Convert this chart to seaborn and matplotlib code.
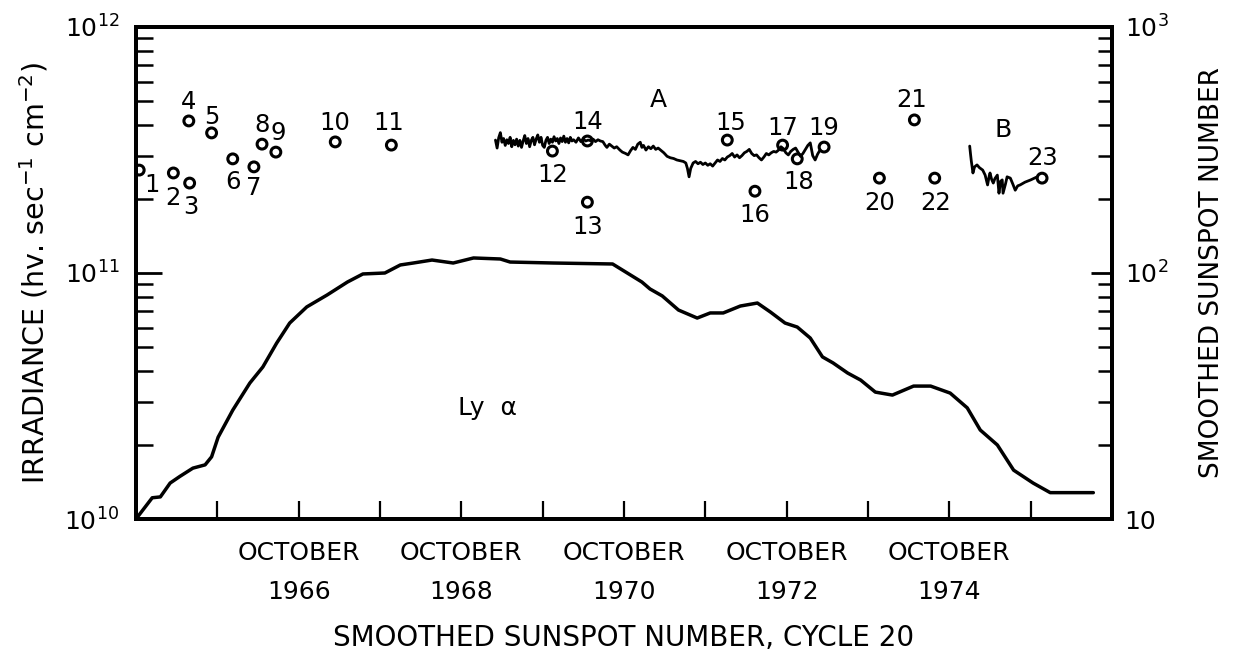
import matplotlib
matplotlib.use('Agg')
import matplotlib.pyplot as plt
import matplotlib.ticker as mticker
import seaborn as sns

sns.set_style("ticks")
plt.rcParams['font.family'] = ['DejaVu Sans']
plt.rcParams['text.color'] = 'black'
plt.rcParams['axes.labelcolor'] = 'black'
plt.rcParams['xtick.color'] = 'black'
plt.rcParams['ytick.color'] = 'black'

# smoothed sunspot number, cycle 20 (right axis)
ssn_year = [1964.75, 1964.95, 1965.05, 1965.17, 1965.29, 1965.45, 1965.60, 1965.68,
            1965.76, 1965.94, 1966.15, 1966.31, 1966.48, 1966.64, 1966.85, 1967.10,
            1967.35, 1967.54, 1967.81, 1968.00, 1968.16, 1968.39, 1968.65, 1968.90,
            1969.23, 1969.35, 1969.88, 1970.61, 1970.79, 1970.97, 1971.07, 1971.22,
            1971.42, 1971.65, 1971.81, 1971.97, 1972.18, 1972.39, 1972.55, 1972.73,
            1972.88, 1973.04, 1973.19, 1973.32, 1973.50, 1973.66, 1973.84, 1974.05,
            1974.31, 1974.52, 1974.76, 1974.97, 1975.13, 1975.34, 1975.54, 1975.78,
            1975.99, 1976.20, 1976.52]
ssn_value = [10.0, 12.2, 12.3, 14.0, 14.9, 16.1, 16.6, 17.9,
             21.5, 27.7, 35.7, 41.5, 51.9, 62.6, 72.8, 81.4,
             91.9, 99.1, 100.0, 107.8, 109.8, 112.9, 109.8, 115.1,
             114.0, 110.8, 109.8, 108.8, 100.0, 91.9, 86.1, 80.7,
             70.7, 65.6, 68.8, 68.8, 73.4, 75.5, 69.4, 62.6,
             60.3, 54.4, 45.6, 43.1, 39.2, 36.7, 32.8, 31.9,
             34.7, 34.7, 32.5, 28.3, 23.0, 20.0, 15.8, 14.0,
             12.8, 12.8, 12.8]

# numbered Ly-alpha irradiance measurements (units of 1e11)
point_id = list(range(1, 24))
point_year = [1964.79, 1965.21, 1965.41, 1965.40, 1965.68, 1965.94, 1966.20, 1966.30,
              1966.47, 1967.20, 1967.89, 1969.87, 1970.30, 1970.30, 1972.02, 1972.36,
              1972.70, 1972.88, 1973.21, 1973.89, 1974.32, 1974.57, 1975.89]
point_irr = [2.62, 2.55, 2.32, 4.15, 3.71, 2.91, 2.70, 3.34,
             3.10, 3.41, 3.31, 3.13, 1.94, 3.44, 3.47, 2.15,
             3.31, 2.91, 3.25, 2.43, 4.19, 2.43, 2.43]

# continuous record A (units of 1e11)
a_year = [1969.17, 1969.19, 1969.21, 1969.23, 1969.25, 1969.27, 1969.29, 1969.31, 1969.33, 1969.35,
          1969.37, 1969.39, 1969.41, 1969.43, 1969.45, 1969.47, 1969.49, 1969.51, 1969.53, 1969.55,
          1969.57, 1969.59, 1969.61, 1969.63, 1969.65, 1969.67, 1969.69, 1969.71, 1969.73, 1969.75,
          1969.77, 1969.79, 1969.81, 1969.83, 1969.85, 1969.87, 1969.89, 1969.91, 1969.93, 1969.95,
          1969.97, 1969.99, 1970.01, 1970.03, 1970.05, 1970.07, 1970.09, 1970.11, 1970.13, 1970.16,
          1970.19, 1970.22, 1970.25, 1970.28, 1970.31, 1970.34, 1970.37, 1970.40, 1970.43, 1970.46,
          1970.49, 1970.52, 1970.54, 1970.57, 1970.60, 1970.63, 1970.66, 1970.70, 1970.73, 1970.77,
          1970.80, 1970.83, 1970.86, 1970.89, 1970.92, 1970.95, 1970.97, 1970.99, 1971.02, 1971.05,
          1971.08, 1971.11, 1971.14, 1971.17, 1971.21, 1971.24, 1971.28, 1971.32, 1971.36, 1971.40,
          1971.44, 1971.48, 1971.51, 1971.53, 1971.55, 1971.57, 1971.60, 1971.63, 1971.66, 1971.69,
          1971.72, 1971.75, 1971.78, 1971.81, 1971.84, 1971.87, 1971.90, 1971.93, 1971.96, 1971.99,
          1972.02, 1972.05, 1972.08, 1972.11, 1972.14, 1972.17, 1972.20, 1972.23, 1972.26, 1972.29,
          1972.32, 1972.35, 1972.38, 1972.41, 1972.44, 1972.47, 1972.50, 1972.53, 1972.56, 1972.59,
          1972.62, 1972.65, 1972.68, 1972.71, 1972.74, 1972.77, 1972.80, 1972.83, 1972.86, 1972.89,
          1972.92, 1972.95, 1972.98, 1973.01, 1973.04, 1973.07, 1973.10, 1973.13, 1973.16]
a_irr = [3.47, 3.22, 3.55, 3.72, 3.40, 3.52, 3.30, 3.48, 3.36, 3.56,
         3.26, 3.46, 3.32, 3.50, 3.28, 3.46, 3.24, 3.44, 3.62, 3.36,
         3.52, 3.26, 3.46, 3.56, 3.32, 3.50, 3.64, 3.40, 3.56, 3.30,
         3.24, 3.46, 3.56, 3.36, 3.50, 3.40, 3.58, 3.44, 3.52, 3.36,
         3.54, 3.42, 3.60, 3.40, 3.52, 3.38, 3.56, 3.44, 3.48, 3.40,
         3.54, 3.42, 3.50, 3.44, 3.47, 3.45, 3.50, 3.42, 3.48, 3.44,
         3.42, 3.30, 3.24, 3.34, 3.28, 3.22, 3.26, 3.16, 3.10, 3.06,
         3.02, 3.14, 3.24, 3.18, 3.34, 3.40, 3.24, 3.30, 3.16, 3.26,
         3.20, 3.28, 3.18, 3.22, 3.14, 3.08, 2.98, 2.94, 2.92, 2.88,
         2.86, 2.84, 2.80, 2.66, 2.46, 2.66, 2.80, 2.84, 2.78, 2.82,
         2.76, 2.80, 2.74, 2.78, 2.72, 2.80, 2.88, 2.84, 2.92, 2.88,
         2.96, 3.00, 3.06, 2.96, 3.02, 2.94, 3.00, 3.08, 3.12, 3.18,
         3.06, 3.00, 3.02, 2.94, 2.88, 2.96, 3.06, 3.02, 3.08, 3.12,
         3.10, 3.16, 3.26, 3.20, 3.08, 3.02, 3.12, 3.18, 3.22, 3.10,
         2.98, 3.06, 3.18, 3.30, 3.38, 3.00, 2.88, 3.04, 3.16]

# continuous record B (units of 1e11)
b_year = [1975.00, 1975.01, 1975.02, 1975.03, 1975.04, 1975.06, 1975.09, 1975.12, 1975.16, 1975.19,
          1975.22, 1975.24, 1975.25, 1975.27, 1975.29, 1975.31, 1975.34, 1975.36, 1975.38, 1975.40,
          1975.41, 1975.44, 1975.46, 1975.50, 1975.53, 1975.56, 1975.59, 1975.62, 1975.68, 1975.75,
          1975.83]
b_irr = [3.28, 3.05, 2.85, 2.70, 2.55, 2.70, 2.75, 2.68, 2.62, 2.50,
         2.28, 2.48, 2.55, 2.40, 2.32, 2.42, 2.50, 2.11, 2.36, 2.39,
         2.11, 2.30, 2.46, 2.43, 2.30, 2.17, 2.26, 2.28, 2.34, 2.39,
         2.46]

label_years = [1966, 1968, 1970, 1972, 1974]

# where each number sits relative to its circle (pixels)
label_offsets = [(13, -15), (0, -25), (1, -24), (0, 19), (0, 16), (0, -23), (0, -21), (0, 19),
                 (2, 19), (0, 19), (-3, 22), (0, -24), (0, -25), (0, 19), (3, 17), (0, -24),
                 (0, 17), (1, -23), (0, 19), (0, -25), (-3, 20), (1, -25), (1, 20)]

fig = plt.figure(figsize=(12.45, 6.71), dpi=100)
ax = fig.add_axes([0.1092, 0.2265, 0.7840, 0.7333])
ax2 = ax.twinx()

ax.set_yscale('log')
ax2.set_yscale('log')
ax.set_ylim(1e10, 1e12)
ax2.set_ylim(10, 1000)
ax.set_xlim(1964.75, 1976.75)

sns.lineplot(x=ssn_year, y=ssn_value, ax=ax2, color='black', linewidth=2.5)
sns.lineplot(x=a_year, y=[v * 1e11 for v in a_irr], ax=ax, color='black', linewidth=2.0)
sns.lineplot(x=b_year, y=[v * 1e11 for v in b_irr], ax=ax, color='black', linewidth=2.0)
ax.scatter(point_year, [v * 1e11 for v in point_irr], s=50, facecolors='none',
           edgecolors='black', linewidths=2.2, zorder=3)

for pid, px, py, off in zip(point_id, point_year, point_irr, label_offsets):
    ax.annotate(str(pid), (px, py * 1e11), xytext=off, textcoords='offset pixels',
                ha='center', va='center', fontsize=17.5)

ax.text(1971.17, 5.05e11, 'A', ha='center', va='center', fontsize=18)
ax.text(1975.41, 3.8e11, 'B', ha='center', va='center', fontsize=18)
ax2.text(1969.07, 28.3, 'Ly  α', ha='center', va='center', fontsize=18)

# x axis: one tick per year (October), labels every two years
ax.xaxis.set_major_locator(mticker.FixedLocator([y + 0.75 for y in label_years]))
ax.xaxis.set_minor_locator(mticker.FixedLocator([1965.75, 1967.75, 1969.75, 1971.75,
                                                 1973.75, 1975.75]))
ax.set_xticklabels([f'OCTOBER\n{y}' for y in label_years], fontsize=18, linespacing=1.8)
ax.xaxis.set_minor_formatter(mticker.NullFormatter())

ax.tick_params(axis='x', which='both', direction='in', length=13, width=1.6, pad=16, top=False)
ax.tick_params(axis='y', which='major', direction='in', length=19, width=2.0, labelsize=18, pad=12)
ax.tick_params(axis='y', which='minor', direction='in', length=12, width=1.8)
ax2.tick_params(axis='y', which='major', direction='in', length=15, width=2.0, labelsize=18, pad=9)
ax2.tick_params(axis='y', which='minor', direction='in', length=10, width=1.8)
ax2.yaxis.set_major_locator(mticker.FixedLocator([10, 100, 1000]))
ax2.set_yticklabels(['10', '$10^2$', '$10^3$'])
ax2.yaxis.set_minor_formatter(mticker.NullFormatter())

for a in (ax, ax2):
    for sp in a.spines.values():
        sp.set_linewidth(2.8)
        sp.set_color('black')

ax.set_ylabel('IRRADIANCE (hv. sec$^{-1}$ cm$^{-2}$)', fontsize=20.5, labelpad=10)
ax2.set_ylabel('SMOOTHED SUNSPOT NUMBER', fontsize=19, rotation=90, labelpad=22)
ax.set_xlabel('SMOOTHED SUNSPOT NUMBER, CYCLE 20', fontsize=20, labelpad=14)

fig.savefig('out.png', dpi=100)
plt.close(fig)
